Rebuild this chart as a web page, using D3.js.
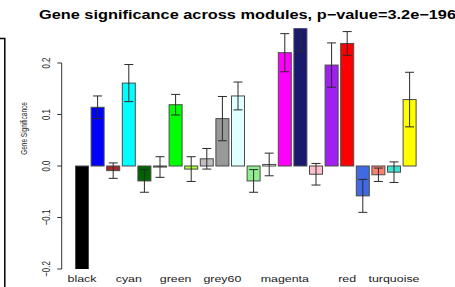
<!DOCTYPE html>
<html><head><meta charset="utf-8">
<script src="https://cdn.jsdelivr.net/npm/d3@7"></script>
<style>body{margin:0;background:#fff}svg{display:block}</style>
</head><body>
<script>
const modules = ["black","blue","brown","cyan","darkgreen","darkred","green","greenyellow","grey","grey60","lightcyan","lightgreen","lightyellow","magenta","midnightblue","pink","purple","red","royalblue","salmon","turquoise","yellow"];
const fills = ["#000000","#0000FF","#A52A2A","#00FFFF","#006400","#8B0000","#00FF00","#ADFF2F","#BEBEBE","#999999","#E0FFFF","#90EE90","#FFFFE0","#FF00FF","#191970","#FFC0CB","#A020F0","#FF0000","#4169E1","#FA8072","#40E0D0","#FFFF00"];
const gs = [-0.26,0.114,-0.009,0.161,-0.029,-0.002,0.119,-0.006,0.014,0.092,0.136,-0.029,0.003,0.220,0.275,-0.016,0.196,0.238,-0.058,-0.017,-0.012,0.129];
const se = [0.02,0.022,0.015,0.036,0.022,0.020,0.020,0.024,0.020,0.043,0.027,0.022,0.022,0.037,0.052,0.021,0.043,0.023,0.032,0.013,0.020,0.053];
const shownLabels = ["black","cyan","green","grey60","magenta","red","turquoise"];
const yTicks = [-0.2,-0.1,0.0,0.1,0.2];
const title = "Gene significance across modules, p-value=3.2e-196";
const yTitle = "Gene Significance";

const W = 455, H = 287, SX = 1.38;
const svg = d3.select("body").append("svg").attr("width", W).attr("height", H);

const x = d3.scaleBand().domain(modules).range([74.2, 417.4]).paddingInner(0.2/1.2).paddingOuter(0.1/1.2);
const y = d3.scaleLinear().domain([-0.2, 0.2]).range([269, 63]);

// left frame fragment
svg.append("path").attr("d", "M0,38.5H4.8V287").attr("fill", "none").attr("stroke", "#000").attr("stroke-width", 1.5);

// title
svg.append("text").attr("x", 39).attr("y", 18.5).attr("font-family", "Liberation Sans, Arial, sans-serif")
  .attr("font-weight", "bold").attr("font-size", 12.5).attr("textLength", 417).attr("lengthAdjust", "spacingAndGlyphs")
  .text(title.replace(/-/g, "\u2212"));

// y axis
const ax = svg.append("g").attr("stroke", "#333").attr("fill", "none");
ax.append("line").attr("x1", 61.7).attr("x2", 61.7).attr("y1", y(-0.2)).attr("y2", y(0.2));
ax.selectAll("line.t").data(yTicks).join("line").attr("class", "t")
  .attr("x1", 57.3).attr("x2", 61.7).attr("y1", d => y(d)).attr("y2", d => y(d));
svg.selectAll("text.yt").data(yTicks).join("text").attr("class", "yt")
  .attr("transform", d => `translate(50,${y(d)}) rotate(-90) scale(1,${SX})`)
  .attr("text-anchor", "middle").attr("font-family", "Liberation Sans, Arial, sans-serif").attr("font-size", 7.9).attr("fill", "#222")
  .text(d => d3.format(".1f")(d).replace("-", "\u2212"));
svg.append("text").attr("transform", `translate(26.5,128.5) rotate(-90) scale(1,${SX})`)
  .attr("text-anchor", "middle").attr("font-family", "Liberation Sans, Arial, sans-serif").attr("font-size", 6.5).attr("fill", "#222")
  .text(yTitle);

// clip
svg.append("clipPath").attr("id", "pc").append("rect").attr("x", 0).attr("y", 28.3).attr("width", W).attr("height", 269 - 28.3);
const pg = svg.append("g").attr("clip-path", "url(#pc)");
const data = modules.map((m, i) => ({m, v: gs[i], e: se[i], c: fills[i]}));
pg.selectAll("rect.bar").data(data).join("rect").attr("class", "bar")
  .attr("x", d => x(d.m)).attr("width", x.bandwidth())
  .attr("y", d => y(Math.max(0, d.v))).attr("height", d => Math.abs(y(d.v) - y(0)))
  .attr("fill", d => d.c).attr("stroke", "#4a4a4a").attr("stroke-width", 1);
const eb = pg.selectAll("g.eb").data(data).join("g").attr("class", "eb").attr("stroke", "#2a2a2a").attr("stroke-width", 1).attr("fill", "none");
const cx = d => x(d.m) + x.bandwidth() / 2;
eb.append("line").attr("x1", cx).attr("x2", cx).attr("y1", d => y(d.v + d.e)).attr("y2", d => y(d.v - d.e));
eb.append("line").attr("x1", d => cx(d) - 4.5).attr("x2", d => cx(d) + 4.5).attr("y1", d => y(d.v + d.e)).attr("y2", d => y(d.v + d.e));
eb.append("line").attr("x1", d => cx(d) - 4.5).attr("x2", d => cx(d) + 4.5).attr("y1", d => y(d.v - d.e)).attr("y2", d => y(d.v - d.e));

// x labels
svg.selectAll("text.xl").data(shownLabels).join("text").attr("class", "xl")
  .attr("transform", d => `translate(${x(d) + x.bandwidth() / 2},282) scale(${SX},1)`)
  .attr("text-anchor", "middle").attr("font-family", "Liberation Sans, Arial, sans-serif").attr("font-size", 9).attr("fill", "#222")
  .text(d => d);
</script>
</body></html>
